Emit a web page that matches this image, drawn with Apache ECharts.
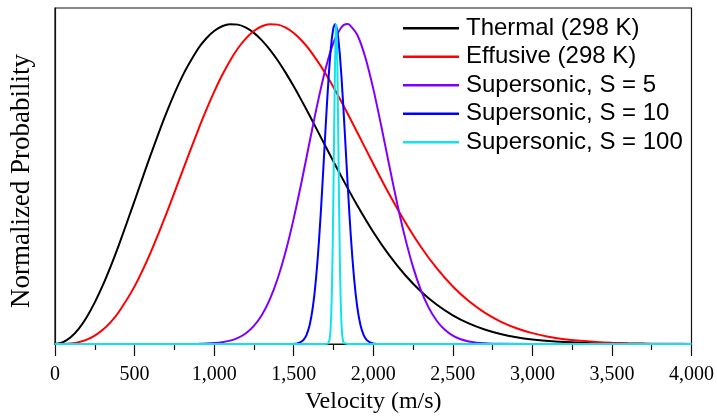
<!DOCTYPE html>
<html>
<head>
<meta charset="utf-8">
<script src="https://cdn.jsdelivr.net/npm/echarts@6/dist/echarts.min.js"></script>
<style>
  html, body { margin: 0; padding: 0; background: #fff; }
  #chart { width: 717px; height: 419px; }
</style>
</head>
<body>
<div id="chart"></div>
<script>
// Velocity grid (m/s) shared by the two broad thermal distributions
const broadVelocity = [0, 50, 100, 150, 200, 250, 300, 350, 400, 500, 600, 700, 800, 900, 950, 1000,
  1050, 1100, 1150, 1200, 1250, 1300, 1350, 1400, 1450, 1500, 1550, 1600, 1700, 1800, 1900, 2000,
  2100, 2200, 2300, 2400, 2500, 2600, 2700, 2800, 2900, 3000,
  3100, 3200, 3300, 3400, 3500, 3600, 3700, 3800, 3900, 4000];

const thermal = [0, 0.0055, 0.0217, 0.0483, 0.0847, 0.1300, 0.1830, 0.2427, 0.3076, 0.4471, 0.5893, 0.7224, 0.8363, 0.9232, 0.9548, 0.9782,
  0.9931, 0.9996, 0.9981, 0.9887, 0.9722, 0.9490, 0.9200, 0.8858, 0.8473, 0.8053, 0.7606, 0.7140, 0.6181, 0.5230, 0.4327, 0.3502,
  0.2777, 0.2157, 0.1642, 0.1225, 0.0896, 0.0643, 0.0453, 0.0313, 0.0212, 0.0141,
  0.0092, 0.0059, 0.0037, 0.0023, 0.0014, 0.0008, 0.0005, 0.0003, 0.0002, 0.0001];

const effusive = [0, 0.0002, 0.0018, 0.0058, 0.0137, 0.0262, 0.0443, 0.0685, 0.0992, 0.1801, 0.2849, 0.4074, 0.5390, 0.6692, 0.7306, 0.7878,
  0.8397, 0.8855, 0.9242, 0.9553, 0.9783, 0.9931, 0.9996, 0.9981, 0.9887, 0.9720, 0.9486, 0.9191, 0.8452, 0.7570, 0.6609, 0.5632,
  0.4686, 0.3812, 0.3032, 0.2360, 0.1797, 0.1341, 0.0980, 0.0702, 0.0493, 0.0339,
  0.0229, 0.0152, 0.0099, 0.0063, 0.0039, 0.0024, 0.0015, 0.0009, 0.0005, 0.0003];

// Supersonic beam, speed ratio S = 5
const s5Velocity = [0, 500, 900, 950, 1000, 1050, 1100, 1150, 1200, 1250, 1300, 1350, 1400,
  1450, 1500, 1550, 1600, 1650, 1700, 1750, 1800, 1835, 1850, 1900, 1950, 2000,
  2050, 2100, 2150, 2200, 2250, 2300, 2350, 2400, 2450, 2500, 2550, 2600, 2650,
  2700, 2750, 2800, 3200, 4000];
const s5 = [0, 0, 0.0006, 0.0013, 0.0028, 0.0055, 0.0106, 0.0193, 0.0338, 0.0566, 0.0909, 0.1396, 0.2054,
  0.2898, 0.3918, 0.5078, 0.6311, 0.7519, 0.8592, 0.9416, 0.9899, 1.0000, 0.9981, 0.9656, 0.8962, 0.7981,
  0.6821, 0.5593, 0.4401, 0.3324, 0.2410, 0.1677, 0.1120, 0.0718, 0.0442, 0.0261, 0.0148, 0.0080, 0.0042,
  0.0021, 0.0010, 0.0005, 0, 0];

// Supersonic beam, S = 10
const s10Velocity = [0, 1500, 1520, 1530, 1540, 1550, 1560, 1570, 1580, 1590, 1600, 1610, 1620,
  1630, 1640, 1650, 1660, 1670, 1680, 1690, 1700, 1710, 1720, 1730, 1740, 1750, 1760,
  1770, 1780, 1790, 1800, 1810, 1820, 1830, 1840, 1850, 1860, 1870, 1880, 1890, 1900,
  1910, 1920, 1930, 1940, 1950, 1960, 1970, 1980, 1990, 2000, 2020, 4000];
const s10 = [0, 0, 0.0017, 0.0028, 0.0047, 0.0075, 0.0119, 0.0183, 0.0276, 0.0407, 0.0586, 0.0827, 0.1140,
  0.1537, 0.2028, 0.2617, 0.3302, 0.4076, 0.4921, 0.5811, 0.6710, 0.7581, 0.8375, 0.9051, 0.9566, 0.9890, 1.0000,
  0.9890, 0.9566, 0.9051, 0.8375, 0.7581, 0.6710, 0.5811, 0.4921, 0.4076, 0.3302, 0.2617, 0.2028, 0.1537, 0.1140,
  0.0827, 0.0586, 0.0407, 0.0276, 0.0183, 0.0119, 0.0075, 0.0047, 0.0028, 0.0017, 0, 0];

// Supersonic beam, S = 100
const s100Velocity = [0, 1700, 1710, 1715, 1720, 1725, 1730, 1735, 1740, 1745, 1750, 1755, 1760, 1765,
  1767, 1770, 1775, 1780, 1785, 1790, 1795, 1800, 1805, 1810, 1815, 1820, 1825, 1840, 4000];
const s100 = [0, 0, 0.0003, 0.0012, 0.0040, 0.0122, 0.0326, 0.0773, 0.1616, 0.2982, 0.4855, 0.6977, 0.8847, 0.9900,
  1.0000, 0.9778, 0.8521, 0.6554, 0.4449, 0.2665, 0.1409, 0.0657, 0.0271, 0.0098, 0.0032, 0.0009, 0.0002, 0, 0];

// Tick labels of the velocity axis
const velocityTicks = ['0', '500', '1,000', '1,500', '2,000', '2,500', '3,000', '3,500', '4,000'];

const seriesNames = ['Thermal (298 K)', 'Effusive (298 K)', 'Supersonic, S = 5', 'Supersonic, S = 10', 'Supersonic, S = 100'];
const seriesColors = ['#000000', '#ff0000', '#8000ff', '#0000ff', '#12e2ee'];

function pairs(xs, ys) { return xs.map((x, i) => [x, ys[i]]); }

const curves = [
  { x: broadVelocity, y: thermal, smooth: 0.3 },
  { x: broadVelocity, y: effusive, smooth: 0.3 },
  { x: s5Velocity, y: s5, smooth: 0.3 },
  { x: s10Velocity, y: s10, smooth: false },
  { x: s100Velocity, y: s100, smooth: false }
];

const chart = echarts.init(document.getElementById('chart'), null, { renderer: 'canvas' });

chart.setOption({
  animation: false,
  backgroundColor: '#ffffff',
  grid: {
    left: 54, right: 25, top: 8, bottom: 74,
    show: true, borderColor: '#111', borderWidth: 1.2, backgroundColor: 'transparent'
  },
  legend: {
    orient: 'vertical',
    left: 403, top: 14,
    padding: 0,
    itemGap: 0,
    itemWidth: 56, itemHeight: 2.5,
    icon: 'rect',
    data: seriesNames,
    textStyle: {
      fontFamily: 'Liberation Sans', fontSize: 24, color: '#000',
      lineHeight: 28.5, padding: [0, 0, 0, 2]
    }
  },
  xAxis: {
    type: 'value', min: 0, max: 4000, interval: 500,
    name: 'Velocity (m/s)', nameLocation: 'middle', nameGap: 46,
    nameTextStyle: { fontFamily: 'Liberation Serif', fontSize: 24, color: '#000' },
    axisLine: { show: true, lineStyle: { color: '#111', width: 1.2 } },
    axisTick: { show: true, inside: false, length: 12, lineStyle: { color: '#111', width: 1.2 } },
    minorTick: { show: true, splitNumber: 2, length: 6, lineStyle: { color: '#111', width: 1.2 } },
    axisLabel: {
      margin: 21, fontFamily: 'Liberation Serif', fontSize: 20, color: '#000',
      formatter: v => velocityTicks[Math.round(v / 500)]
    },
    splitLine: { show: false }
  },
  yAxis: {
    type: 'value', min: 0, max: 1.05,
    name: 'Normalized Probability', nameLocation: 'middle', nameGap: 20,
    nameTextStyle: { fontFamily: 'Liberation Serif', fontSize: 27, color: '#000', padding: [0, 10, 0, 0] },
    axisLine: { show: true, lineStyle: { color: '#111', width: 1.2 } },
    axisTick: { show: false },
    axisLabel: { show: false },
    splitLine: { show: false }
  },
  series: curves.map((c, i) => ({
    name: seriesNames[i],
    type: 'line',
    data: pairs(c.x, c.y),
    smooth: c.smooth,
    showSymbol: false,
    symbol: 'none',
    color: seriesColors[i],
    lineStyle: { color: seriesColors[i], width: 2 },
    emphasis: { disabled: true },
    z: 2 + i
  }))
});
</script>
</body>
</html>
